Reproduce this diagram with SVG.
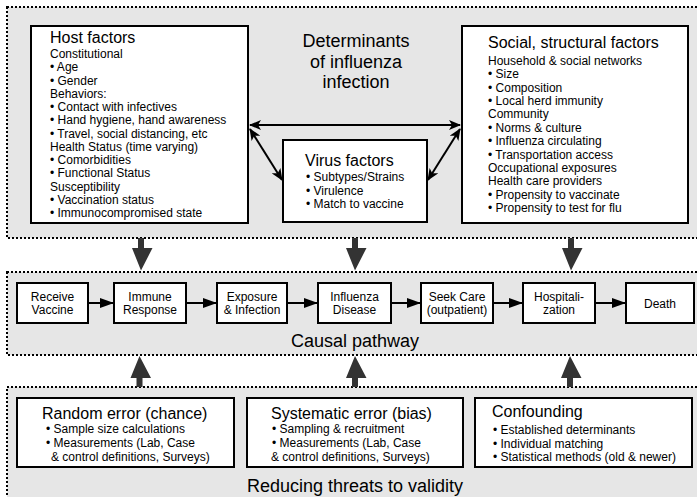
<svg xmlns="http://www.w3.org/2000/svg" width="697" height="497" viewBox="0 0 697 497">
<defs>
<style>
text{font-family:"Liberation Sans",Arial,sans-serif;fill:#000}
.panel{fill:#e6e6e6;stroke:#000;stroke-width:2;stroke-dasharray:2 2}
.box{fill:#fff;stroke:#000;stroke-width:2}
.big{font-size:18px}
.ttl{font-size:16px}
.t{font-size:12px}
.c{text-anchor:middle}
.ln{stroke:#000;stroke-width:2;fill:none}
.thick{fill:#333}
</style>
<marker id="ah" viewBox="0 0 12 10" refX="11" refY="5" markerWidth="12" markerHeight="10" markerUnits="userSpaceOnUse" orient="auto-start-reverse">
<path d="M0,0 L12,5 L0,10 L3,5 z" fill="#000"/>
</marker>
<marker id="fa" viewBox="0 0 14 10" refX="14" refY="5" markerWidth="14" markerHeight="10" markerUnits="userSpaceOnUse" orient="auto">
<path d="M0,0 L14,5 L0,10 z" fill="#000"/>
</marker>
</defs>

<g id="panels">
<rect id="determinants-panel" class="panel" x="7" y="7" width="720" height="231"/>
<rect id="causal-panel" class="panel" x="7" y="272" width="720" height="83"/>
<rect id="validity-panel" class="panel" x="7" y="387" width="720" height="140"/>
<g class="big c">
<text x="356" y="47">Determinants</text>
<text x="356" y="67.5">of influenza</text>
<text x="356" y="88">infection</text>
<text x="355" y="347">Causal pathway</text>
<text x="355" y="492">Reducing threats to validity</text>
</g>
</g>

<g id="host">
<rect class="box" x="31" y="26" width="217" height="197"/>
<text class="ttl" x="50" y="43">Host factors</text>
<g class="t">
<text x="50" y="58">Constitutional</text>
<text x="50" y="71.25">• Age</text>
<text x="50" y="84.5">• Gender</text>
<text x="50" y="97.75">Behaviors:</text>
<text x="50" y="111">• Contact with infectives</text>
<text x="50" y="124.25">• Hand hygiene, hand awareness</text>
<text x="50" y="137.5">• Travel, social distancing, etc</text>
<text x="50" y="150.75">Health Status (time varying)</text>
<text x="50" y="164">• Comorbidities</text>
<text x="50" y="177.25">• Functional Status</text>
<text x="50" y="190.5">Susceptibility</text>
<text x="50" y="203.75">• Vaccination status</text>
<text x="50" y="217">• Immunocompromised state</text>
</g>
</g>

<g id="virus">
<rect class="box" x="283" y="140" width="144" height="82"/>
<text class="ttl" x="305" y="166">Virus factors</text>
<g class="t">
<text x="306" y="181">• Subtypes/Strains</text>
<text x="306" y="194.5">• Virulence</text>
<text x="306" y="208">• Match to vaccine</text>
</g>
</g>

<g id="social">
<rect class="box" x="462" y="26" width="226" height="197"/>
<text class="ttl" x="488" y="48">Social, structural factors</text>
<g class="t">
<text x="488" y="65">Household &amp; social networks</text>
<text x="488" y="78.4">• Size</text>
<text x="488" y="91.7">• Composition</text>
<text x="488" y="105.1">• Local herd immunity</text>
<text x="488" y="118.4">Community</text>
<text x="488" y="131.8">• Norms &amp; culture</text>
<text x="488" y="145.2">• Influenza circulating</text>
<text x="488" y="158.5">• Transportation access</text>
<text x="488" y="171.9">Occupational exposures</text>
<text x="488" y="185.2">Health care providers</text>
<text x="488" y="198.6">• Propensity to vaccinate</text>
<text x="488" y="212">• Propensity to test for flu</text>
</g>
</g>

<g id="receive-vaccine">
<rect class="box" x="17" y="283" width="71" height="40"/>
<text class="t c" x="52.5" y="301">Receive</text>
<text class="t c" x="52.5" y="314">Vaccine</text>
</g>
<g id="immune-response">
<rect class="box" x="114" y="283" width="72" height="40"/>
<text class="t c" x="150" y="301">Immune</text>
<text class="t c" x="150" y="314">Response</text>
</g>
<g id="exposure-infection">
<rect class="box" x="217" y="283" width="70" height="40"/>
<text class="t c" x="252" y="301">Exposure</text>
<text class="t c" x="252" y="314">&amp; Infection</text>
</g>
<g id="influenza-disease">
<rect class="box" x="318" y="283" width="73" height="40"/>
<text class="t c" x="354.5" y="301">Influenza</text>
<text class="t c" x="354.5" y="314">Disease</text>
</g>
<g id="seek-care">
<rect class="box" x="421" y="283" width="72" height="40"/>
<text class="t c" x="457" y="301">Seek Care</text>
<text class="t c" x="457" y="314">(outpatient)</text>
</g>
<g id="hospitalization">
<rect class="box" x="523" y="283" width="72" height="40"/>
<text class="t c" x="559" y="301">Hospitali-</text>
<text class="t c" x="559" y="314">zation</text>
</g>
<g id="death">
<rect class="box" x="626" y="283" width="68" height="40"/>
<text class="t c" x="660" y="307.5">Death</text>
</g>

<g id="random-error">
<rect class="box" x="17" y="398" width="217" height="69"/>
<text class="ttl" x="42" y="419">Random error (chance)</text>
<text class="t" x="46" y="433">• Sample size calculations</text>
<text class="t" x="46" y="447">• Measurements (Lab, Case</text>
<text class="t" x="51" y="461">&amp; control definitions, Surveys)</text>
</g>
<g id="systematic-error">
<rect class="box" x="247" y="398" width="216" height="69"/>
<text class="ttl" x="271" y="419">Systematic error (bias)</text>
<text class="t" x="272" y="433">• Sampling &amp; recruitment</text>
<text class="t" x="272" y="447">• Measurements (Lab, Case</text>
<text class="t" x="271" y="461">&amp; control definitions, Surveys)</text>
</g>
<g id="confounding">
<rect class="box" x="475" y="398" width="217" height="69"/>
<text class="ttl" x="492" y="417">Confounding</text>
<text class="t" x="493" y="434">• Established determinants</text>
<text class="t" x="493" y="447.5">• Individual matching</text>
<text class="t" x="493" y="461">• Statistical methods (old &amp; newer)</text>
</g>

<g id="connectors">
<line class="ln" x1="250" y1="125" x2="460" y2="125" marker-start="url(#ah)" marker-end="url(#ah)"/>
<line class="ln" x1="250" y1="129" x2="282" y2="180" marker-start="url(#ah)" marker-end="url(#ah)"/>
<line class="ln" x1="460" y1="129" x2="428" y2="180" marker-start="url(#ah)" marker-end="url(#ah)"/>
<line class="ln" x1="88" y1="303" x2="114" y2="303" marker-end="url(#fa)"/>
<line class="ln" x1="186" y1="303" x2="217" y2="303" marker-end="url(#fa)"/>
<line class="ln" x1="287" y1="303" x2="318" y2="303" marker-end="url(#fa)"/>
<line class="ln" x1="391" y1="303" x2="421" y2="303" marker-end="url(#fa)"/>
<line class="ln" x1="493" y1="303" x2="523" y2="303" marker-end="url(#fa)"/>
<line class="ln" x1="595" y1="303" x2="626" y2="303" marker-end="url(#fa)"/>
<g class="thick">
<path d="M138,238 h6 v10 h8.5 L141,270.5 L132,248 h6 z"/>
<path d="M352,238 h6 v10 h8.5 L355,270.5 L346,248 h6 z"/>
<path d="M568,238 h6 v10 h8.5 L571,270.5 L562,248 h6 z"/>
<path d="M136.5,387 h6 v-9 h8.5 L139.5,356 L130.5,378 h6 z"/>
<path d="M352,387 h6 v-9 h8.5 L355,356 L346,378 h6 z"/>
<path d="M567,387 h6 v-9 h8.5 L570,356 L561,378 h6 z"/>
</g>
</g>
</svg>
